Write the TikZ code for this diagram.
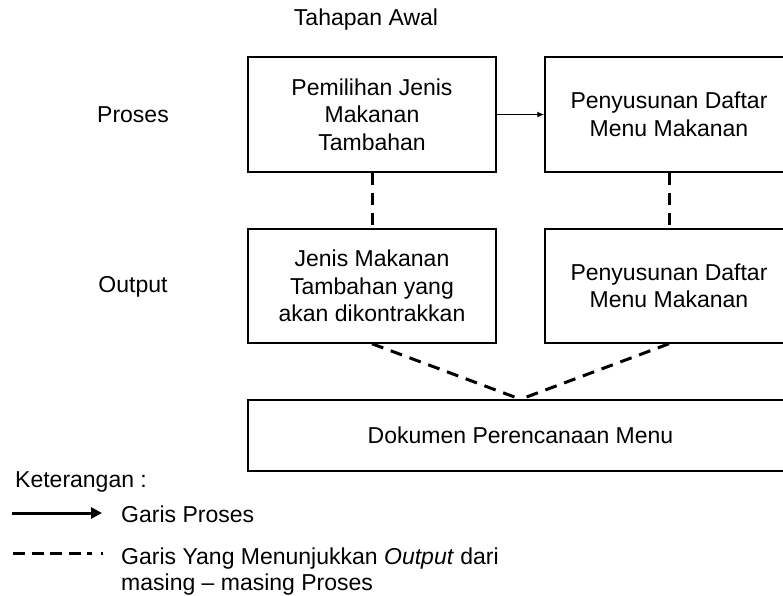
\documentclass[tikz,border=0pt]{standalone}
\usepackage{fontspec}
\setmainfont{Liberation Sans}
\usetikzlibrary{arrows.meta}
\tikzset{
  box/.style={draw, line width=1.5pt, minimum width=248pt, inner sep=0pt, align=center, font=\fontsize{23}{27.5}\selectfont},
  lbl/.style={inner sep=0pt, font=\fontsize{23}{27.5}\selectfont},
  outline/.style={line width=3pt, dash pattern=on 12pt off 8pt},
  proc/.style={line width=1.3pt, -{Latex[length=7pt,width=6pt]}},
}
\begin{document}
\begin{tikzpicture}[x=1pt,y=-1pt]
\useasboundingbox (0,0) rectangle (783,595);
\begin{scope}
\clip (0,0) rectangle (783,595);
\node[lbl] (title) at (366,20) {Tahapan Awal};
\node[lbl] (lproses) at (133,115) {Proses};
\node[lbl] (loutput) at (133,287) {Output};

\node[box, minimum height=115pt] (b1) at (372,114.5) {Pemilihan Jenis\\Makanan\\Tambahan};
\node[box, minimum height=115pt] (b2) at (669,114.5) {Penyusunan Daftar\\Menu Makanan};
\node[box, minimum height=114pt] (b3) at (372,286) {Jenis Makanan\\Tambahan yang\\akan dikontrakkan};
\node[box, minimum height=114pt] (b4) at (669,286) {Penyusunan Daftar\\Menu Makanan};
\node[box, minimum width=545pt, minimum height=71pt] (b5) at (520.5,435.5) {Dokumen Perencanaan Menu};

\draw[proc] (b1.east) -- (b2.west);
\draw[outline] (b1.south) -- (b3.north);
\draw[outline] (b2.south) -- (b4.north);
\draw[outline] (b3.south) -- (b5.north);
\draw[outline] (b4.south) -- (b5.north);

\node[lbl, anchor=west] (ket) at (15,482) {Keterangan :};
\coordinate (a1) at (12,513);
\coordinate (a2) at (102,513);
\draw[line width=3pt, -{Triangle[length=11pt,width=11pt]}] (a1) -- (a2);
\node[lbl, anchor=base west] (gp) at (121,522) {Garis Proses};
\coordinate (d1) at (13,553);
\coordinate (d2) at (103,553);
\draw[line width=3pt, dash pattern=on 12pt off 6.5pt on 12pt off 6.5pt on 12pt off 6.5pt on 12pt off 6.5pt on 5pt off 9pt on 2pt off 20pt] (d1) -- (d2);
\node[lbl, anchor=base west] (go1) at (121,564) {Garis Yang Menunjukkan \textit{Output} dari};
\node[lbl, anchor=base west] (go2) at (121,590) {masing -- masing Proses};
\end{scope}
\end{tikzpicture}
\end{document}
